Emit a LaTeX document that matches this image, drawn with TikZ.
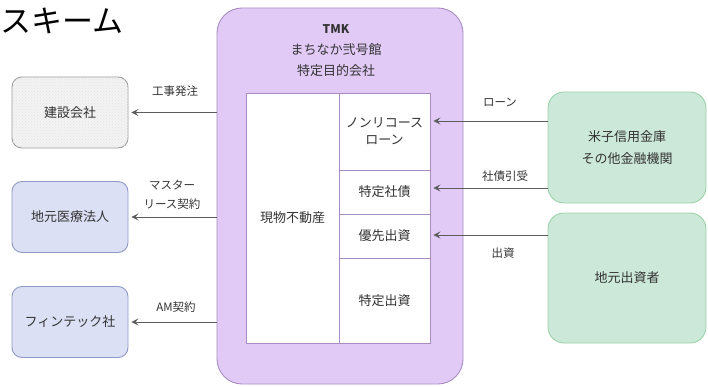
\documentclass[tikz,border=0pt]{standalone}
\usepackage{fontspec}
\setmainfont{Noto Sans CJK JP}
\usetikzlibrary{arrows.meta,patterns}
\definecolor{txt}{HTML}{333333}
\definecolor{tmkfill}{HTML}{E2CAF7}
\definecolor{tmkdraw}{HTML}{A88CC2}
\definecolor{grayfill}{HTML}{F3F3F3}
\definecolor{graydraw}{HTML}{999999}
\definecolor{bluefill}{HTML}{DCE0F4}
\definecolor{bluedraw}{HTML}{8F99C4}
\definecolor{greenfill}{HTML}{CCE8D8}
\definecolor{greendraw}{HTML}{9CD2AA}
\definecolor{arr}{HTML}{5C5C5C}
\tikzset{
  every node/.style={text=txt, font=\fontsize{13}{17}\selectfont},
  sidebox/.style={rounded corners=10pt, line width=0.9pt, minimum width=116pt, minimum height=71pt, align=center},
  cell/.style={draw=tmkdraw, fill=white, line width=0.9pt, align=center, inner sep=0pt},
  lbl/.style={font=\fontsize{11.5}{14}\selectfont, align=center},
  conn/.style={draw=arr, line width=0.8pt, -{Stealth[length=7pt,width=7pt,inset=3pt]}},
}
\begin{document}
\begin{tikzpicture}[x=1pt,y=-1pt]
\useasboundingbox (0,0) rectangle (708,387);
\clip (0,0) rectangle (708,387);
% title
\node[anchor=west, inner sep=0pt, font=\fontsize{31}{36}\selectfont, text=black] (title) at (0,21) {スキーム};
% TMK outer
\node[draw=tmkdraw, fill=tmkfill, line width=0.9pt, rounded corners=25pt, minimum width=246pt, minimum height=376pt, inner sep=0pt] (tmk) at (340,196) {};
\node[inner sep=0pt, font=\fontsize{12}{14}\selectfont\bfseries] (tmkname) at (336,29) {TMK};
\node[inner sep=0pt] (tmkline2) at (336,50) {まちなか弐号館};
\node[inner sep=0pt] (tmkline3) at (336,71) {特定目的会社};
% inner cells
\node[cell, minimum width=93pt, minimum height=250pt] (genbutsu) at (292.5,218) {現物不動産};
\node[cell, minimum width=91pt, minimum height=77pt] (nonrecourse) at (384.5,131.5) {ノンリコース\\ローン};
\node[cell, minimum width=91pt, minimum height=44pt] (tokuteishasai) at (384.5,192) {特定社債};
\node[cell, minimum width=91pt, minimum height=44pt] (yusen) at (384.5,236) {優先出資};
\node[cell, minimum width=91pt, minimum height=85pt] (tokuteishusshi) at (384.5,300.5) {特定出資};
% left boxes
\node[sidebox, draw=graydraw, fill=grayfill, postaction={pattern=crosshatch dots, pattern color=gray!22}] (kensetsu) at (70,112.5) {建設会社};
\node[sidebox, draw=bluedraw, fill=bluefill] (iryo) at (70,217) {地元医療法人};
\node[sidebox, draw=bluedraw, fill=bluefill] (fintech) at (70,322) {フィンテック社};
% right boxes
\node[draw=greendraw, fill=greenfill, line width=0.9pt, rounded corners=16pt, minimum width=158pt, minimum height=111pt, align=center, font=\fontsize{13}{22}\selectfont] (yonago) at (627,147.5) {米子信用金庫\\その他金融機関};
\node[draw=greendraw, fill=greenfill, line width=0.9pt, rounded corners=16pt, minimum width=158pt, minimum height=130pt] (jimoto) at (627,278) {地元出資者};
% left connectors
\coordinate (l1) at (tmk.west |- kensetsu.east);
\coordinate (l2) at (tmk.west |- iryo.east);
\coordinate (l3) at (tmk.west |- fintech.east);
\draw[conn, shorten >=3pt] (l1) -- (kensetsu.east);
\draw[conn, shorten >=3pt] (l2) -- (iryo.east);
\draw[conn, shorten >=3pt] (l3) -- (fintech.east);
\node[lbl] (lb1) at (175,91) {工事発注};
\node[lbl, font=\fontsize{11.5}{19}\selectfont] (lb2) at (172,195) {マスター\\リース契約};
\node[lbl] (lb3) at (176,307) {AM契約};
% right connectors
\coordinate (r1s) at (yonago.west |- 0,121);
\coordinate (r1e) at (nonrecourse.east |- 0,121);
\coordinate (r2s) at (yonago.west |- 0,188);
\coordinate (r2e) at (tokuteishasai.east |- 0,188);
\coordinate (r3s) at (jimoto.west |- 0,235);
\coordinate (r3e) at (yusen.east |- 0,235);
\draw[conn, shorten >=3pt] (r1s) -- (r1e);
\draw[conn, shorten >=3pt] (r2s) -- (r2e);
\draw[conn, shorten >=3pt] (r3s) -- (r3e);
\node[lbl] (lr1) at (500,102) {ローン};
\node[lbl] (lr2) at (505,176) {社債引受};
\node[lbl] (lr3) at (503,253) {出資};
\end{tikzpicture}
\end{document}
